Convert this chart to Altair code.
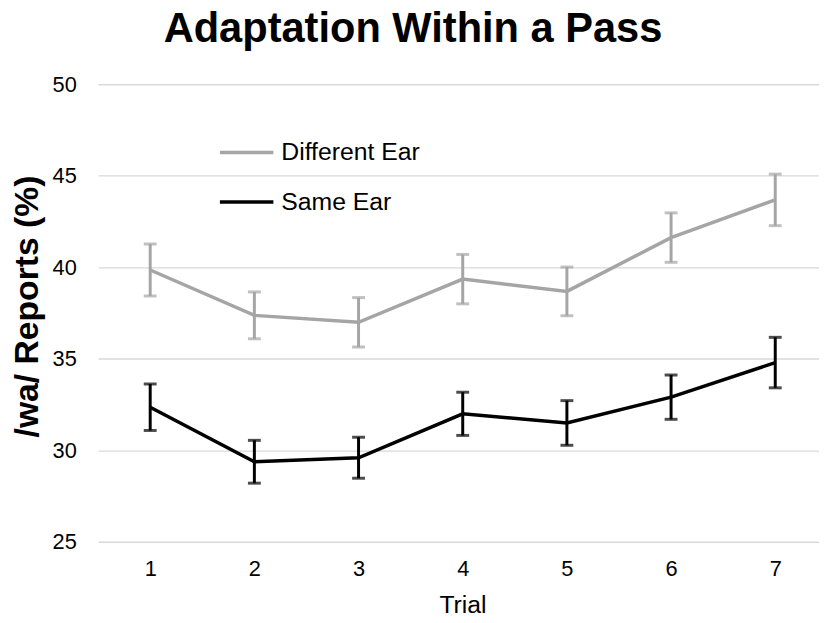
import altair as alt
import pandas as pd

trials = [1, 2, 3, 4, 5, 6, 7]
series_names = ["Different Ear", "Same Ear"]
diff_mean = [39.85, 37.37, 36.99, 39.35, 38.68, 41.62, 43.68]
diff_err = [1.42, 1.28, 1.35, 1.35, 1.33, 1.35, 1.41]
same_mean = [32.35, 29.37, 29.59, 31.99, 31.49, 32.90, 34.79]
same_err = [1.27, 1.17, 1.12, 1.18, 1.22, 1.21, 1.38]
colors = ["#A5A5A5", "#000000"]

rows = []
for name, means, errs in [(series_names[0], diff_mean, diff_err), (series_names[1], same_mean, same_err)]:
    for t, m, e in zip(trials, means, errs):
        rows.append({"trial": t, "series": name, "mean": m, "lo": m - e, "hi": m + e})
df = pd.DataFrame(rows)

FONT = "Liberation Sans"

color = alt.Color(
    "series:N",
    scale=alt.Scale(domain=series_names, range=colors),
    legend=alt.Legend(
        title=None,
        orient="none",
        legendX=121,
        legendY=40,
        symbolType="stroke",
        symbolSize=2916,
        symbolStrokeWidth=3.5,
        symbolOpacity=1,
        labelFontSize=25,
        labelFont=FONT,
        labelColor="#000000",
        labelOffset=6,
        rowPadding=8,
        padding=0,
    ),
)

x = alt.X(
    "trial:Q",
    scale=alt.Scale(domain=[0.5, 7.42], nice=False, zero=False),
    axis=alt.Axis(
        values=trials,
        format="d",
        grid=False,
        domain=False,
        ticks=False,
        tickSize=0,
        labelPadding=17,
        labelFontSize=22,
        labelFont=FONT,
        labelColor="#000000",
        title="Trial",
        titleFontSize=25,
        titleFont=FONT,
        titleFontWeight="normal",
        titleColor="#000000",
        titlePadding=13,
        titleX=368,
    ),
)

yaxis = alt.Axis(
    values=[25, 30, 35, 40, 45, 50],
    grid=True,
    gridColor="#D9D9D9",
    gridWidth=1.4,
    domain=False,
    ticks=False,
    tickSize=0,
    labelPadding=22,
    labelFontSize=22,
    labelFont=FONT,
    labelColor="#000000",
    title="/wa/ Reports (%)",
    titleFontSize=34,
    titleFont=FONT,
    titleFontWeight="bold",
    titleColor="#000000",
    titlePadding=8,
    titleY=224,
)
yscale = alt.Scale(domain=[25, 50], nice=False, zero=False)

base = alt.Chart(df)

lines = base.mark_line(strokeWidth=3.5).encode(
    x=x,
    y=alt.Y("mean:Q", scale=yscale, axis=yaxis),
    color=color,
)

bars = base.mark_rule(strokeWidth=3).encode(
    x="trial:Q",
    y="lo:Q",
    y2="hi:Q",
    color=color,
)

caps_lo = base.mark_tick(orient="horizontal", size=13, thickness=3).encode(
    x="trial:Q",
    y="lo:Q",
    color=color,
)
caps_hi = base.mark_tick(orient="horizontal", size=13, thickness=3).encode(
    x="trial:Q",
    y="hi:Q",
    color=color,
)

chart = (
    alt.layer(bars, caps_lo, caps_hi, lines)
    .properties(
        width=728,
        height=462,
        autosize=alt.AutoSizeParams(type="none"),
        padding={"left": 91, "top": 74, "right": 0, "bottom": 71},
        title=alt.TitleParams(
            text="Adaptation Within a Pass",
            fontSize=42,
            font=FONT,
            fontWeight="bold",
            color="#000000",
            anchor="middle",
            dx=-46,
            dy=41,
            baseline="alphabetic",
            offset=31,
        ),
    )
    .configure_view(stroke="transparent", strokeWidth=0)
)

chart.save("out.html", embed_options={"renderer": "svg", "actions": False})
